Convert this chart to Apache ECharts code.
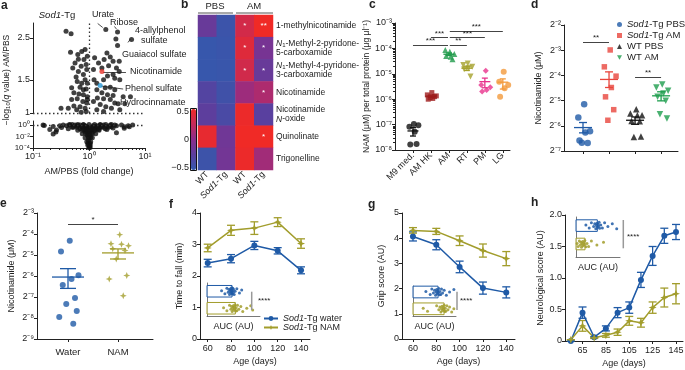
<!DOCTYPE html>
<html>
<head>
<meta charset="utf-8">
<title>Nicotinamide panels</title>
<script src="https://cdn.jsdelivr.net/npm/echarts@6.0.0/dist/echarts.min.js"></script>
<style>
  html, body { margin: 0; padding: 0; background: #fff; }
  #chart { width: 685px; height: 370px; }
</style>
</head>
<body>
<div id="chart"></div>
<script>
// ---------------- data ----------------

// a: volcano, [log10 fold change AM/PBS, -log10 q]
const aUpper = [
  [-0.41, 2.71], [-0.32, 2.63], [-0.33, 2.10], [-0.20, 2.04], [-0.13, 2.12], [-0.07, 2.17], [-0.03, 2.00], [-0.19, 1.93], [-0.09, 1.92], [-0.25, 1.84],
  [-0.14, 1.77], [-0.05, 1.81], [-0.29, 1.73], [-0.04, 1.70], [-0.19, 1.66], [-0.10, 1.60], [-0.23, 1.55], [-0.07, 1.50], [-0.21, 1.47], [-0.13, 1.44],
  [-0.03, 1.44], [-0.31, 1.36], [-0.16, 1.37], [-0.05, 1.34], [-0.27, 1.28], [-0.18, 1.26], [-0.10, 1.25], [-0.03, 1.22], [-0.21, 1.19], [-0.11, 1.15],
  [-0.04, 1.13], [-0.27, 1.09], [-0.16, 1.08], [-0.07, 1.06], [-0.50, 1.06], [-0.37, 1.06], [-0.14, 1.01], [-0.05, 1.02], [-0.22, 1.04], [-0.03, 1.18],
  [-0.31, 1.18], [-0.10, 1.33],
  [0.30, 2.77], [0.51, 2.69], [0.76, 2.45], [0.48, 2.47], [0.51, 2.28], [0.32, 2.08], [0.38, 1.98], [0.27, 1.92], [0.43, 1.88], [0.54, 1.88],
  [0.17, 1.84], [0.35, 1.78], [0.23, 1.73], [0.49, 1.73], [0.54, 1.66], [0.43, 1.60], [0.33, 1.57], [0.46, 1.53], [0.55, 1.50], [0.26, 1.50],
  [0.14, 1.44], [0.29, 1.36], [0.38, 1.37], [0.46, 1.33], [0.14, 1.33], [0.23, 1.28], [0.33, 1.25], [0.43, 1.24], [0.61, 1.22], [0.15, 1.20],
  [0.26, 1.19], [0.38, 1.18], [0.46, 1.13], [0.52, 1.12], [0.20, 1.11], [0.30, 1.08], [0.40, 1.06], [0.55, 1.04], [0.14, 1.04], [0.26, 1.02],
  [0.08, 1.15], [0.09, 1.50], [0.08, 1.70], [0.10, 1.96], [0.74, 1.22], [0.64, 1.12]
];
// a (lower part): [log10 fold change, log10(-log10 q)]
const aLower = [
  [-0.82, 0], [-0.64, -0.26], [-0.59, -1.23], [-0.70, -0.77], [-0.52, -0.13], [-0.49, -0.45], [-0.46, 0], [-0.40, -0.13], [-0.37, -0.65], [-0.34, 0],
  [-0.28, -0.39], [-0.25, 0], [-0.21, -0.13], [-0.16, 0], [-0.16, -0.65], [-0.13, -0.32], [-0.10, 0], [-0.09, -0.77], [-0.07, -0.13], [-0.07, -1.10],
  [-0.05, -0.65], [-0.04, -0.26], [-0.03, -0.45], [-0.03, -1.29], [-0.03, -1.74], [-0.02, -3.23], [-0.01, -2.71], [-0.01, -2.19], [0.01, -1.10], [0.01, -3.68],
  [0.00, -3.95], [0.02, -0.45], [0.02, -1.74], [0.02, -3.90], [0.02, -3.23], [0.03, -2.19], [0.04, -0.90], [0.05, -1.29], [0.06, -0.45], [0.07, -0.13],
  [0.08, -0.65], [0.10, -0.90], [0.11, -0.32], [0.14, -0.13], [0.14, -0.65], [0.17, -0.77], [0.20, 0], [0.20, -0.45], [0.23, -0.26], [0.26, 0],
  [0.29, -0.65], [0.32, -0.26], [0.32, -0.77], [0.38, 0], [0.40, -0.32], [0.43, -0.52], [0.46, 0], [0.49, -0.13], [0.58, 0], [0.63, -0.32],
  [0.70, -0.13], [0.78, 0], [-0.80, -0.10], [-0.64, -1.57], [-0.58, -0.87], [0.49, -1.34], [0.63, -0.57], [0.72, -0.30],
  [-0.35, 0.1], [-0.30, 0.1], [-0.20, 0.1], [-0.10, 0.1], [0.00, 0.1], [0.10, 0.1], [0.20, 0.1], [0.30, 0.1], [0.40, 0.1],
  [-0.30, -0.4], [-0.22, -0.4], [-0.12, -0.4], [-0.04, -0.4], [0.06, -0.4], [0.15, -0.4], [0.25, -0.4], [0.35, -0.4],
  [-0.20, -0.9], [-0.12, -0.9], [-0.05, -0.9], [0.03, -0.9], [0.10, -0.9], [0.18, -0.9],
  [-0.12, -1.5], [-0.06, -1.5], [0.00, -1.5], [0.06, -1.5], [0.12, -1.5],
  [-0.07, -2.2], [0.00, -2.2], [0.06, -2.2], [-0.04, -2.9], [0.03, -2.9], [-0.02, -3.5], [0.02, -3.5]
];
const aNicotinamide = [0.23, 1.66];
const aPhenolSulfate = [0.20, 1.40];

// b: heatmap, rows x columns, scaled abundance
const bRows = ['1-methylnicotinamide', 'N1-Methyl-2-pyridone-5-carboxamide', 'N1-Methyl-4-pyridone-3-carboxamide',
  'Nicotinamide', 'Nicotinamide N-oxide', 'Quinolinate', 'Trigonelline'];
const bCols = ['WT PBS', 'Sod1-Tg PBS', 'WT AM', 'Sod1-Tg AM'];
const bValues = [
  [-0.18, -0.45, 0.33, 0.50],
  [-0.48, -0.46, 0.40, -0.10],
  [-0.48, -0.47, 0.32, -0.18],
  [-0.30, -0.42, 0.08, 0.15],
  [-0.24, -0.36, 0.48, -0.26],
  [0.45, -0.14, 0.50, 0.50],
  [-0.44, -0.12, 0.48, 0.10]
];
const bStars = [
  ['', '', '*', '**'],
  ['', '', '*', '*'],
  ['', '', '*', '*'],
  ['', '', '', '*'],
  ['', '', '', ''],
  ['', '', '', '*'],
  ['', '', '', '']
];

// c: NAM per total protein, log10 values
const cGroups = ['M9 med.', 'AM HK', 'AM', 'RT', 'PM', 'LG'];
const cLog10Nam = [
  [-6.98, -7.08, -7.03, -7.28, -7.78, -7.76],
  [-5.74, -5.83, -5.87, -5.97, -6.00, -5.90, -5.94],
  [-4.13, -4.06, -4.22, -4.33, -4.30, -4.43],
  [-4.59, -4.65, -4.72, -4.78, -4.82, -5.11],
  [-4.88, -5.44, -5.53, -5.64, -5.70],
  [-4.92, -5.31, -5.44, -5.57, -5.90]
];
const cMeanSem = [[-7.25, -7.45, -7.12], [-5.88, -5.93, -5.84], [-4.23, -4.28, -4.18],
  [-4.78, -4.87, -4.70], [-5.31, -5.55, -5.17], [-5.33, -5.60, -5.20]];
const cSig = [[1, 2.95, -3.87, '***'], [2, 2.95, -3.58, '***'], [3.05, 4, -3.87, '**'], [3.05, 5, -3.58, '***'], [3.05, 6, -3.31, '***']];

// d: nicotinamide (uM), log2 values
const dGroups = ['Sod1-Tg PBS', 'Sod1-Tg AM', 'WT PBS', 'WT AM'];
const dLog2Nam = [
  [-5.14, -5.67, -6.22, -6.27, -6.58, -6.68, -6.67],
  [-2.99, -3.66, -4.03, -4.48, -4.85, -5.36, -5.78],
  [-5.34, -5.51, -5.58, -5.58, -5.81, -5.82, -6.44, -6.42],
  [-4.36, -4.48, -4.61, -4.72, -4.85, -5.01, -5.54, -5.71]
];
const dMeanSem = [[-6.07, -6.28, -5.87], [-4.16, -4.48, -3.86], [-5.78, -5.94, -5.65], [-4.81, -5.01, -4.65]];
const dSig = [[1, 2, -2.67, '**'], [3, 4, -4.06, '**']];

// e: nicotinamide (uM), log2 values
const eGroups = ['Water', 'NAM'];
const eLog2Nam = [
  [-4.32, -4.83, -5.97, -6.14, -6.43, -7.05, -7.33, -7.67, -7.95, -8.27],
  [-4.03, -4.46, -4.56, -4.49, -4.70, -4.79, -5.19, -5.98, -6.14, -6.94]
];
const eMeanSem = [[-6.05, -6.59, -5.65], [-4.90, -5.19, -4.71]];
const eSig = [[1, 2, -3.52, '*']];

// f: time to fall (min)
const fAges = [60, 80, 100, 120, 140];
const fWater = [2.41, 2.55, 2.97, 2.80, 2.18];
const fWaterErr = [0.12, 0.13, 0.13, 0.10, 0.11];
const fNam = [2.89, 3.45, 3.52, 3.71, 3.03];
const fNamErr = [0.12, 0.16, 0.20, 0.14, 0.15];
const fAucMean = [189, 214];
const fAucWater = [110, 135, 150, 160, 165, 170, 175, 178, 180, 182, 185, 186, 188, 190, 192, 195, 198, 200, 205, 212, 225, 245, 262];
const fAucNam = [125, 150, 170, 180, 185, 190, 195, 198, 200, 205, 208, 210, 215, 220, 225, 230, 240, 255, 270, 300, 330, 345];

// g: grip score (AU)
const gAges = [60, 80, 100, 120, 140];
const gWater = [4.07, 3.74, 2.86, 2.02, 1.85];
const gWaterErr = [0.18, 0.20, 0.23, 0.24, 0.22];
const gNam = [4.31, 4.27, 3.90, 3.51, 3.19];
const gNamErr = [0.11, 0.12, 0.19, 0.26, 0.28];
const gAucMean = [233, 289];
const gAucWater = [120, 160, 175, 190, 200, 210, 215, 220, 225, 230, 235, 240, 245, 250, 258, 265, 275, 290, 310, 340, 380];
const gAucNam = [95, 135, 220, 240, 250, 260, 265, 270, 275, 280, 285, 290, 295, 300, 305, 315, 325, 340, 360, 380];

// h: neurological score (AU)
const hAges = [55, 65, 75, 85, 95, 105, 115, 125, 135, 145];
const hWater = [0.00, 0.45, 0.06, 0.20, 0.45, 0.53, 0.97, 1.35, 1.67, 1.73];
const hWaterErr = [0, 0.09, 0.01, 0.04, 0.08, 0.09, 0.12, 0.15, 0.12, 0.12];
const hNam = [0.02, 0.24, 0.05, 0.09, 0.14, 0.32, 0.29, 0.53, 0.69, 0.75];
const hNamErr = [0, 0.085, 0.01, 0.03, 0.05, 0.07, 0.07, 0.09, 0.15, 0.16];
const hAucMean = [194, 82];
const hAucWater = [90, 120, 140, 160, 170, 180, 185, 190, 195, 200, 205, 210, 215, 225, 240, 260, 290, 330, 370];
const hAucNam = [10, 20, 30, 40, 45, 50, 55, 60, 65, 70, 75, 80, 90, 100, 115, 140, 190, 250];

// ---------------- styles / helpers ----------------
const FONT = "'Liberation Sans', Arial, Helvetica, sans-serif";
const INK = '#222';
const BLUE = '#1f5aa6';
const OLIVE = '#a29d2c';
const STAR = 'path://M0,-10L2.8,-2.8L10,0L2.8,2.8L0,10L-2.8,2.8L-10,0L-2.8,-2.8Z';
const DOWN = 'path://M-5,-4L5,-4L0,5Z';
const JIT = [0.05, -0.2, 0.3, 0.1, -0.15, 0.2, -0.05, 0.25, -0.25, 0.15, -0.1];
const JY = [0.1, -0.5, 0.6, -0.2, 0.35, -0.65, 0.0, 0.5, -0.35, 0.25, -0.1, 0.7, -0.55];

const SUPMAP = {'-': '⁻', '0': '⁰', '1': '¹', '2': '²', '3': '³', '4': '⁴', '5': '⁵', '6': '⁶', '7': '⁷', '8': '⁸', '9': '⁹'};
const sup = n => String(Math.round(n)).split('').map(c => SUPMAP[c]).join('');
const pow10 = v => '10' + sup(v);
const pow2 = v => '2' + sup(v);

function merge(a, b) {
  const out = Object.assign({}, a);
  Object.keys(b || {}).forEach(k => {
    const bv = b[k], av = out[k];
    if (bv && typeof bv === 'object' && !Array.isArray(bv) && av && typeof av === 'object' && !Array.isArray(av)) {
      out[k] = merge(av, bv);
    } else {
      out[k] = bv;
    }
  });
  return out;
}

function baseAxis() {
  return {
    type: 'value',
    nameLocation: 'middle',
    nameTextStyle: {color: INK, fontSize: 9, fontFamily: FONT},
    axisLine: {show: true, onZero: false, lineStyle: {color: INK, width: 1}},
    axisTick: {show: true, inside: false, length: 3, lineStyle: {color: INK, width: 1}},
    axisLabel: {show: true, color: INK, fontSize: 9, margin: 3, fontFamily: FONT},
    splitLine: {show: false},
    splitArea: {show: false}
  };
}

const grids = [], xAxes = [], yAxes = [], series = [];
function addGrid(left, top, width, height, extra) {
  grids.push(merge({left, top, width, height, containLabel: false, outerBoundsMode: 'none'}, extra));
  return grids.length - 1;
}
function addX(o) { xAxes.push(merge(merge(baseAxis(), {position: 'bottom'}), o)); return xAxes.length - 1; }
function addY(o) { yAxes.push(merge(merge(baseAxis(), {position: 'left'}), o)); return yAxes.length - 1; }
function minorTicks(from, to) {
  const out = [];
  for (let n = from; n < to; n++) for (let k = 2; k <= 9; k++) out.push(n + Math.log10(k));
  return out;
}
function sigLines(list) {
  return {
    silent: true, symbol: 'none', animation: false,
    lineStyle: {color: '#444', type: 'solid', width: 1},
    label: {show: true, position: 'insideMiddleTop', distance: 0, color: INK, fontSize: 8, fontFamily: FONT},
    data: list.map(s => [
      {coord: [s[0], s[2]], label: {formatter: s[3]}},
      {coord: [s[1], s[2]]}
    ])
  };
}
function meanSem(xi, yi, rows, colors, halfW, capW) {
  return {
    type: 'custom', name: 'meanSem', xAxisIndex: xi, yAxisIndex: yi, silent: true, z: 4,
    data: rows.map((r, i) => [i + 1, r[0], r[1], r[2], i]),
    renderItem: (params, api) => {
      const x = api.value(0);
      const pm = api.coord([x, api.value(1)]);
      const pl = api.coord([x, api.value(2)]);
      const ph = api.coord([x, api.value(3)]);
      const style = {stroke: colors[api.value(4)], lineWidth: 1.3};
      return {type: 'group', children: [
        {type: 'line', shape: {x1: pm[0] - halfW, y1: pm[1], x2: pm[0] + halfW, y2: pm[1]}, style},
        {type: 'line', shape: {x1: pl[0], y1: pl[1], x2: ph[0], y2: ph[1]}, style},
        {type: 'line', shape: {x1: pl[0] - capW, y1: pl[1], x2: pl[0] + capW, y2: pl[1]}, style},
        {type: 'line', shape: {x1: ph[0] - capW, y1: ph[1], x2: ph[0] + capW, y2: ph[1]}, style}
      ]};
    }
  };
}
function errBars(xi, yi, xs, ys, es, color) {
  return {
    type: 'custom', name: 'err', xAxisIndex: xi, yAxisIndex: yi, silent: true, z: 3,
    data: xs.map((x, i) => [x, ys[i] - es[i], ys[i] + es[i]]),
    renderItem: (params, api) => {
      const pl = api.coord([api.value(0), api.value(1)]);
      const ph = api.coord([api.value(0), api.value(2)]);
      const style = {stroke: color, lineWidth: 1.3};
      return {type: 'group', children: [
        {type: 'line', shape: {x1: pl[0], y1: pl[1], x2: ph[0], y2: ph[1]}, style},
        {type: 'line', shape: {x1: pl[0] - 4, y1: pl[1], x2: pl[0] + 4, y2: pl[1]}, style},
        {type: 'line', shape: {x1: ph[0] - 4, y1: ph[1], x2: ph[0] + 4, y2: ph[1]}, style}
      ]};
    }
  };
}
function lineSeries(name, xi, yi, xs, ys, color, symbol) {
  return {
    type: 'line', name, xAxisIndex: xi, yAxisIndex: yi, z: 4,
    data: xs.map((x, i) => [x, ys[i]]),
    symbol, symbolSize: symbol === 'circle' ? 6 : 8,
    lineStyle: {color, width: 1.5}, itemStyle: {color}
  };
}
function insetPanel(xi, yi, means, centers, half, dots) {
  const colors = [BLUE, OLIVE];
  series.push({
    type: 'custom', name: 'auc', xAxisIndex: xi, yAxisIndex: yi, silent: true, z: 2,
    data: means.map((m, i) => [m, centers[i], i]),
    renderItem: (params, api) => {
      const p0 = api.coord([0, api.value(1) + half]);
      const p1 = api.coord([api.value(0), api.value(1) - half]);
      return {type: 'rect', shape: {x: p0[0], y: p0[1], width: p1[0] - p0[0], height: p1[1] - p0[1]},
        style: {fill: 'rgba(255,255,255,0.7)', stroke: colors[api.value(2)], lineWidth: 1}};
    }
  });
  dots.forEach((arr, g) => {
    series.push({
      type: 'scatter', name: 'aucDots', xAxisIndex: xi, yAxisIndex: yi, silent: true, z: 3,
      symbolSize: 3, itemStyle: {color: colors[g], opacity: 0.85},
      data: arr.map((v, i) => [v, centers[g] + JY[i % JY.length] * half * 0.85])
    });
  });
}

// ---------------- panel a ----------------
const gAU = addGrid(33, 23, 112, 90);
const gAL = addGrid(33, 121, 112, 27);
const xAU = addX({gridIndex: gAU, min: -1, max: 1, show: false});
const yAU = addY({gridIndex: gAU, min: 0, max: Math.log10(3),
  axisTick: {customValues: [0, Math.log10(1.5), Math.log10(2.5)]},
  axisLabel: {customValues: [0, Math.log10(1.5), Math.log10(2.5)], formatter: v => String(Math.round(Math.pow(10, v) * 10) / 10)}});
const xAL = addX({gridIndex: gAL, min: -1, max: 1, interval: 1, axisLabel: {formatter: pow10, margin: 4},
  name: 'AM/PBS (fold change)', nameGap: 19});
addX({gridIndex: gAL, min: -1, max: 1, axisLine: {show: false}, axisLabel: {show: false},
  axisTick: {customValues: minorTicks(-1, 1), length: 2}});
const yAL = addY({gridIndex: gAL, min: -4, max: 0.7,
  axisTick: {customValues: [-4, -2, 0]},
  axisLabel: {customValues: [-4, -2, 0], formatter: pow10, fontSize: 8}});

const dotted = {color: '#333', type: [1.5, 2.5], width: 1.3};
const leader = {color: '#222', type: 'solid', width: 0.8};
series.push({
  type: 'scatter', name: 'volcanoUp', xAxisIndex: xAU, yAxisIndex: yAU, silent: true,
  symbolSize: 5, itemStyle: {color: '#111'},
  data: aUpper.map(p => [p[0], Math.log10(p[1])]),
  markLine: {
    silent: true, symbol: 'none', animation: false, label: {show: false}, lineStyle: dotted,
    data: [
      {xAxis: 0}, {yAxis: 0},
      [{coord: [0.25, 0.2173], lineStyle: leader}, {coord: [0.66, 0.2173], lineStyle: leader}],
      [{coord: [0.21, 0.143], lineStyle: leader}, {coord: [0.61, 0.127], lineStyle: leader}],
      [{coord: [0.155, 0.4745], lineStyle: leader}, {coord: [0.245, 0.4532], lineStyle: leader}],
      [{coord: [0.455, 0.4586], lineStyle: leader}, {coord: [0.49, 0.445], lineStyle: leader}],
      [{coord: [0.696, 0.374], lineStyle: leader}, {coord: [0.74, 0.392], lineStyle: leader}]
    ]
  }
});
series.push({
  type: 'scatter', name: 'nicotinamide', xAxisIndex: xAU, yAxisIndex: yAU, silent: true, z: 5,
  symbolSize: 5, itemStyle: {color: '#e8332a'},
  data: [[aNicotinamide[0], Math.log10(aNicotinamide[1])]]
});
series.push({
  type: 'scatter', name: 'phenolSulfate', xAxisIndex: xAU, yAxisIndex: yAU, silent: true, z: 5,
  symbolSize: 5, itemStyle: {color: '#2a9ad8'},
  data: [[aPhenolSulfate[0], Math.log10(aPhenolSulfate[1])]]
});
series.push({
  type: 'scatter', name: 'volcanoLow', xAxisIndex: xAL, yAxisIndex: yAL, silent: true,
  symbolSize: 5, itemStyle: {color: '#111'},
  data: aLower,
  markLine: {silent: true, symbol: 'none', animation: false, label: {show: false}, lineStyle: dotted, data: [{yAxis: 0}]}
});

// ---------------- panel b ----------------
const bRowLabel = {
  'N1-Methyl-2-pyridone-5-carboxamide': '{i|N}{s|1}-Methyl-2-pyridone-\n5-carboxamide',
  'N1-Methyl-4-pyridone-3-carboxamide': '{i|N}{s|1}-Methyl-4-pyridone-\n3-carboxamide',
  'Nicotinamide N-oxide': 'Nicotinamide\n{i|N}-oxide'
};
const gB = addGrid(198, 15, 75, 155);
const xB = addX({type: 'category', gridIndex: gB, data: bCols,
  axisLine: {show: false}, axisTick: {show: false},
  axisLabel: {interval: 0, rotate: 45, margin: 3,
    formatter: v => v.startsWith('Sod1') ? '{i|Sod1}-Tg' : 'WT',
    rich: {i: {fontStyle: 'italic', fontSize: 9, color: INK, fontFamily: FONT}}}});
const yB = addY({type: 'category', gridIndex: gB, data: bRows, inverse: true, position: 'right',
  axisLine: {show: false}, axisTick: {show: false},
  axisLabel: {interval: 0, align: 'left', margin: 3, fontSize: 8.5, lineHeight: 9,
    formatter: v => bRowLabel[v] || v,
    rich: {
      i: {fontStyle: 'italic', fontSize: 8.5, lineHeight: 9, color: INK, fontFamily: FONT},
      s: {fontSize: 6, lineHeight: 9, verticalAlign: 'bottom', color: INK, fontFamily: FONT}
    }}});
const heatData = [];
bValues.forEach((row, r) => row.forEach((v, c) => heatData.push([c, r, v])));
series.push({
  type: 'heatmap', name: 'heat', xAxisIndex: xB, yAxisIndex: yB, silent: true,
  data: heatData,
  itemStyle: {borderWidth: 0},
  label: {show: true, color: '#fff', fontSize: 8, fontFamily: FONT,
    formatter: p => bStars[p.data[1]][p.data[0]]}
});
const heatIndex = series.length - 1;

// ---------------- panel c ----------------
const cColors = ['#111111', '#9e1b1b', '#1f9a4a', '#a5a12c', '#e8328c', '#f39a3c'];
const cSymbols = ['circle', 'rect', 'triangle', 'triangle', 'diamond', 'circle'];
const cRotate = [0, 0, 0, 180, 0, 0];
const gC = addGrid(395, 23, 115, 127);
const cTicks = [1, 2, 3, 4, 5, 6];
const xC = addX({gridIndex: gC, min: 0, max: 6.4,
  axisTick: {customValues: cTicks},
  axisLabel: {customValues: cTicks, rotate: 45, margin: 4, formatter: v => cGroups[Math.round(v) - 1]}});
const yC = addY({gridIndex: gC, min: -8, max: -3, interval: 1, axisLabel: {formatter: pow10},
  name: 'NAM (μM) per total protein (μg μl⁻¹)', nameGap: 19, nameTextStyle: {fontSize: 8.5}});
addY({gridIndex: gC, min: -8, max: -3, axisLine: {show: false}, axisLabel: {show: false},
  axisTick: {customValues: minorTicks(-8, -3), length: 2}});
cLog10Nam.forEach((vals, g) => {
  series.push({
    type: 'scatter', name: cGroups[g], xAxisIndex: xC, yAxisIndex: yC, silent: true, z: 3,
    symbol: cSymbols[g], symbolRotate: cRotate[g], symbolSize: cSymbols[g] === 'rect' ? 5 : 6,
    itemStyle: {color: cColors[g]},
    data: vals.map((v, i) => [g + 1 + JIT[i % JIT.length], v]),
    markLine: g === 0 ? sigLines(cSig) : undefined
  });
});
series.push(meanSem(xC, yC, cMeanSem, cColors, 5.5, 3));

// ---------------- panel d ----------------
const dColors = [BLUE, '#e8453c', '#111111', '#1e9e4e'];
const dSymbols = ['circle', 'rect', 'triangle', 'triangle'];
const dRotate = [0, 0, 0, 180];
const gD = addGrid(564, 25, 114, 126);
const xD = addX({gridIndex: gD, min: 0.27, max: 4.65, axisTick: {customValues: [1, 2, 3, 4]}, axisLabel: {show: false}});
const yD = addY({gridIndex: gD, min: -7, max: -2, interval: 1, axisLabel: {formatter: pow2},
  name: 'Nicotinamide (μM)', nameGap: 21});
dLog2Nam.forEach((vals, g) => {
  series.push({
    type: 'scatter', name: dGroups[g], xAxisIndex: xD, yAxisIndex: yD, silent: true, z: 3,
    symbol: dSymbols[g], symbolRotate: dRotate[g], symbolSize: dSymbols[g] === 'rect' ? 5.5 : 6.5,
    itemStyle: {color: dColors[g]},
    data: vals.map((v, i) => [g + 1 + JIT[i % JIT.length] * 0.9, v]),
    markLine: g === 0 ? sigLines(dSig) : undefined
  });
});
series.push(meanSem(xD, yD, dMeanSem, dColors, 9, 4));

// ---------------- panel e ----------------
const eColors = [BLUE, OLIVE];
const gE = addGrid(37, 213, 116, 126);
const xE = addX({gridIndex: gE, min: 0.38, max: 2.7,
  axisTick: {customValues: [1, 2]},
  axisLabel: {customValues: [1, 2], margin: 8, fontSize: 9.5, formatter: v => eGroups[Math.round(v) - 1]}});
const yE = addY({gridIndex: gE, min: -9, max: -3, interval: 1, axisLabel: {formatter: pow2},
  name: 'Nicotinamide (μM)', nameGap: 21});
eLog2Nam.forEach((vals, g) => {
  series.push({
    type: 'scatter', name: 'e ' + eGroups[g], xAxisIndex: xE, yAxisIndex: yE, silent: true, z: 3,
    symbol: g === 0 ? 'circle' : STAR, symbolSize: g === 0 ? 6 : 7,
    itemStyle: {color: eColors[g]},
    data: vals.map((v, i) => [g + 1 + JIT[i % JIT.length] * 0.7, v]),
    markLine: g === 0 ? sigLines(eSig) : undefined
  });
});
series.push(meanSem(xE, yE, eMeanSem, eColors, 16, 8));

// ---------------- panels f, g, h ----------------
const gF = addGrid(200, 213, 110, 126);
const xF = addX({gridIndex: gF, min: 53.4, max: 147.7,
  axisTick: {customValues: fAges}, axisLabel: {customValues: fAges, margin: 5},
  name: 'Age (days)', nameGap: 18});
const yF = addY({gridIndex: gF, min: 0, max: 4, interval: 1, name: 'Time to fall (min)', nameGap: 16});
series.push(errBars(xF, yF, fAges, fWater, fWaterErr, BLUE));
series.push(errBars(xF, yF, fAges, fNam, fNamErr, OLIVE));
series.push(lineSeries('Sod1-Tg water', xF, yF, fAges, fWater, BLUE, 'circle'));
series.push(lineSeries('Sod1-Tg NAM', xF, yF, fAges, fNam, OLIVE, STAR));

const gG = addGrid(402, 213, 113, 126);
const xG = addX({gridIndex: gG, min: 50.6, max: 147.5,
  axisTick: {customValues: gAges}, axisLabel: {customValues: gAges, margin: 5},
  name: 'Age (days)', nameGap: 18});
const yG = addY({gridIndex: gG, min: 0, max: 5, interval: 1, name: 'Grip score (AU)', nameGap: 16});
series.push(errBars(xG, yG, gAges, gWater, gWaterErr, BLUE));
series.push(errBars(xG, yG, gAges, gNam, gNamErr, OLIVE));
series.push(lineSeries('Sod1-Tg water', xG, yG, gAges, gWater, BLUE, 'circle'));
series.push(lineSeries('Sod1-Tg NAM', xG, yG, gAges, gNam, OLIVE, STAR));

const hTicks = [65, 85, 105, 125, 145];
const gH = addGrid(565, 215, 118, 126);
const xH = addX({gridIndex: gH, min: 50, max: 151,
  axisTick: {customValues: hTicks}, axisLabel: {customValues: hTicks, margin: 5},
  name: 'Age (days)', nameGap: 18});
const yH = addY({gridIndex: gH, min: 0, max: 2, interval: 0.5,
  axisLabel: {formatter: v => v === 0 ? '0' : v.toFixed(1)},
  name: 'Neurological score (AU)', nameGap: 20});
series.push(errBars(xH, yH, hAges, hWater, hWaterErr, BLUE));
series.push(errBars(xH, yH, hAges, hNam, hNamErr, OLIVE));
series.push(lineSeries('Sod1-Tg water', xH, yH, hAges, hWater, BLUE, 'circle'));
series.push(lineSeries('Sod1-Tg NAM', xH, yH, hAges, hNam, OLIVE, STAR));

// AUC insets
function insetAxes(left, top, width, height) {
  const g = addGrid(left, top, width, height);
  const thin = {lineStyle: {color: '#555', width: 0.8}};
  const xi = addX({gridIndex: g, min: 0, max: 400, axisLine: thin, axisTick: {show: false}, axisLabel: {show: false},
    name: 'AUC (AU)', nameGap: 6});
  const yi = addY({gridIndex: g, min: 0, max: 2, axisLine: thin, axisTick: {show: false}, axisLabel: {show: false}});
  return [xi, yi];
}
const [xFI, yFI] = insetAxes(207, 283, 53, 33);
insetPanel(xFI, yFI, fAucMean, [1.5, 0.47], 0.35, [fAucWater, fAucNam]);
const [xGI, yGI] = insetAxes(413, 286, 43, 30);
insetPanel(xGI, yGI, gAucMean, [1.6, 0.48], 0.39, [gAucWater, gAucNam]);
const [xHI, yHI] = insetAxes(576, 217, 44, 40);
insetPanel(xHI, yHI, hAucMean, [1.57, 0.65], 0.29, [hAucWater, hAucNam]);

// ---------------- text and decorations ----------------
function T(x, y, text, o) {
  return merge({type: 'text', x, y, silent: true, z: 50,
    style: {text, fontSize: 9, fontFamily: FONT, fill: INK, align: 'left', verticalAlign: 'middle'}}, o);
}
function L(x1, y1, x2, y2, stroke, w) {
  return {type: 'line', silent: true, z: 50, shape: {x1, y1, x2, y2}, style: {stroke, lineWidth: w}};
}
const BOLD = {style: {fontSize: 12, fontWeight: 'bold'}};
const italicRich = size => ({i: {fontStyle: 'italic', fontSize: size, fill: INK, fontFamily: FONT}});
const graphics = [
  T(1, 6, 'a', BOLD), T(181, 5, 'b', BOLD), T(369, 5, 'c', BOLD), T(531, 5, 'd', BOLD),
  T(0, 204, 'e', BOLD), T(169, 205, 'f', BOLD), T(368, 205, 'g', BOLD), T(531, 203, 'h', BOLD),
  // a
  T(57, 15, '{i|Sod1}-Tg', {style: {align: 'center', fontSize: 9.5, rich: italicRich(9.5)}}),
  T(7, 80, '−log{s|10}({i|q} value) AM/PBS', {rotation: Math.PI / 2, style: {align: 'center', fontSize: 8.5,
    rich: {i: {fontStyle: 'italic', fontSize: 8.5, fill: INK, fontFamily: FONT},
      s: {fontSize: 6, verticalAlign: 'bottom', fill: INK, fontFamily: FONT}}}}),
  T(103, 15, 'Urate', {style: {align: 'center'}}),
  T(124, 23, 'Ribose', {style: {align: 'center'}}),
  T(135, 31, '4-allylphenol'), T(141, 41, 'sulfate'),
  T(122, 55, 'Guaiacol sulfate'),
  T(130, 72, 'Nicotinamide'),
  T(125, 89, 'Phenol sulfate'),
  T(120, 103, 'Hydrocinnamate'),
  // b
  T(215, 6, 'PBS', {style: {align: 'center', fontSize: 9.5}}),
  T(254, 6, 'AM', {style: {align: 'center', fontSize: 9.5}}),
  L(198, 13, 233, 13, '#555', 1), L(236, 13, 273, 13, '#555', 1),
  {type: 'rect', silent: true, z: 50, shape: {x: 190.5, y: 108.5, width: 6, height: 62}, style: {fill: 'none', stroke: '#111', lineWidth: 1}},
  T(189, 112, '0.5', {style: {align: 'right'}}),
  T(189, 139.5, '0', {style: {align: 'right'}}),
  T(189, 168, '−0.5', {style: {align: 'right'}}),
  // insets: significance
  L(251.7, 291.7, 251.7, 310, '#999', 1.5), T(258, 301, '****', {style: {fontSize: 8}}),
  L(457, 291.7, 457, 310, '#999', 1.5), T(460, 301, '****', {style: {fontSize: 8}}),
  L(623.3, 220, 623.3, 248.3, '#999', 1.5), T(627, 237, '****', {style: {fontSize: 8}})
];

const legendRich = {i: {fontStyle: 'italic', fontSize: 9.5, color: INK, fontFamily: FONT}};
const option = {
  animation: false,
  textStyle: {fontFamily: FONT},
  grid: grids,
  xAxis: xAxes,
  yAxis: yAxes,
  series,
  visualMap: [{
    type: 'continuous', seriesIndex: heatIndex, min: -0.5, max: 0.5,
    inRange: {color: ['#3459ad', '#5b3f9e', '#8a2d8c', '#c42a5a', '#f02a26']},
    left: 191, top: 109, itemWidth: 5, itemHeight: 61, padding: 0,
    calculable: false, hoverLink: false, text: null, orient: 'vertical'
  }],
  legend: [{
    data: [{name: 'Sod1-Tg PBS'}, {name: 'Sod1-Tg AM'}, {name: 'WT PBS'}, {name: 'WT AM', icon: DOWN}],
    orient: 'vertical', left: 617, top: 19, itemWidth: 5, itemHeight: 5, itemGap: 0,
    selectedMode: false, padding: 0,
    textStyle: {fontSize: 9.5, color: INK, fontFamily: FONT, lineHeight: 11, rich: legendRich},
    formatter: n => n.replace('Sod1', '{i|Sod1}')
  }, {
    data: ['Sod1-Tg water', 'Sod1-Tg NAM'], orient: 'vertical', left: 263, top: 314, itemWidth: 14, itemHeight: 6, itemGap: 0,
    selectedMode: false, padding: 0,
    textStyle: {fontSize: 9, color: INK, fontFamily: FONT, lineHeight: 8, rich: {i: {fontStyle: 'italic', fontSize: 9, color: INK, fontFamily: FONT}}},
    formatter: n => n.replace('Sod1', '{i|Sod1}')
  }],
  graphic: {elements: graphics}
};

const chart = echarts.init(document.getElementById('chart'), null, {renderer: 'canvas'});
chart.setOption(option);
</script>
</body>
</html>
